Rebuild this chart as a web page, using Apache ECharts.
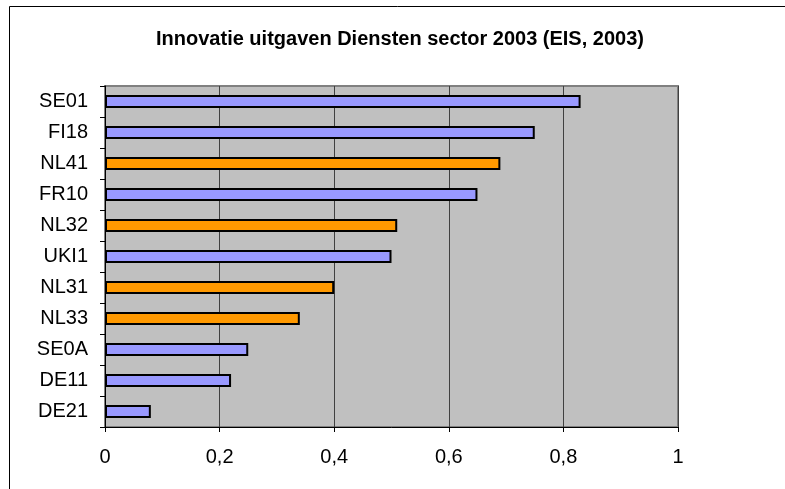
<!DOCTYPE html>
<html>
<head>
<meta charset="utf-8">
<script src="https://cdn.jsdelivr.net/npm/echarts@6/dist/echarts.min.js"></script>
<style>
  html, body { margin: 0; padding: 0; background: #ffffff; }
  #chart { width: 785px; height: 489px; }
</style>
</head>
<body>
<div id="chart"></div>
<script>
// regio's, van boven naar beneden
const regions = ['SE01', 'FI18', 'NL41', 'FR10', 'NL32', 'UKI1', 'NL31', 'NL33', 'SE0A', 'DE11', 'DE21']
const values = [0.83, 0.75, 0.69, 0.65, 0.51, 0.50, 0.40, 0.34, 0.25, 0.22, 0.08]
// Nederlandse regio's worden oranje getoond
const isDutch = [false, false, true, false, true, false, true, true, false, false, false]
const xTicks = [0, 0.2, 0.4, 0.6, 0.8, 1]

const myChart = echarts.init(document.getElementById('chart'))

const option = {
  backgroundColor: '#ffffff',
  animation: false,
  title: {
    text: 'Innovatie uitgaven Diensten sector 2003 (EIS, 2003)',
    left: 395,
    textAlign: 'center',
    top: 24,
    textStyle: {
      fontFamily: 'Liberation Sans, Arial',
      fontSize: 20,
      fontWeight: 'bold',
      color: '#000'
    }
  },
  graphic: [
    {
      type: 'rect',
      silent: true,
      shape: { x: 9.5, y: 6.5, width: 900, height: 700 },
      style: { fill: 'none', stroke: '#000', lineWidth: 1 }
    }
  ],
  grid: {
    left: 105,
    right: 107,
    top: 86,
    bottom: 62,
    show: true,
    backgroundColor: '#C0C0C0',
    borderColor: '#808080',
    borderWidth: 2
  },
  xAxis: {
    type: 'value',
    min: 0,
    max: 1,
    interval: 0.2,
    axisLine: { show: true, lineStyle: { color: '#000', width: 1 } },
    axisTick: { show: true, length: 5, lineStyle: { color: '#000' } },
    axisLabel: {
      margin: 20,
      fontFamily: 'Liberation Sans, Arial',
      fontSize: 20,
      color: '#000',
      customValues: xTicks,
      formatter: function (v) {
        return String(+v.toFixed(1)).replace('.', ',')
      }
    },
    splitLine: { show: true, lineStyle: { color: '#404040', width: 1 } }
  },
  yAxis: {
    type: 'category',
    inverse: true,
    data: regions,
    axisLine: { show: true, lineStyle: { color: '#000', width: 1 } },
    axisTick: { show: true, length: 5, lineStyle: { color: '#000' } },
    axisLabel: {
      margin: 17,
      fontFamily: 'Liberation Sans, Arial',
      fontSize: 20,
      color: '#000'
    },
    splitLine: { show: false }
  },
  series: [
    {
      type: 'bar',
      barWidth: 13,
      data: values.map(function (v, i) {
        return {
          value: v,
          itemStyle: {
            color: isDutch[i] ? '#FF9900' : '#9999FF',
            borderColor: '#000',
            borderWidth: 2
          }
        }
      })
    }
  ]
}

myChart.setOption(option)
</script>
</body>
</html>
